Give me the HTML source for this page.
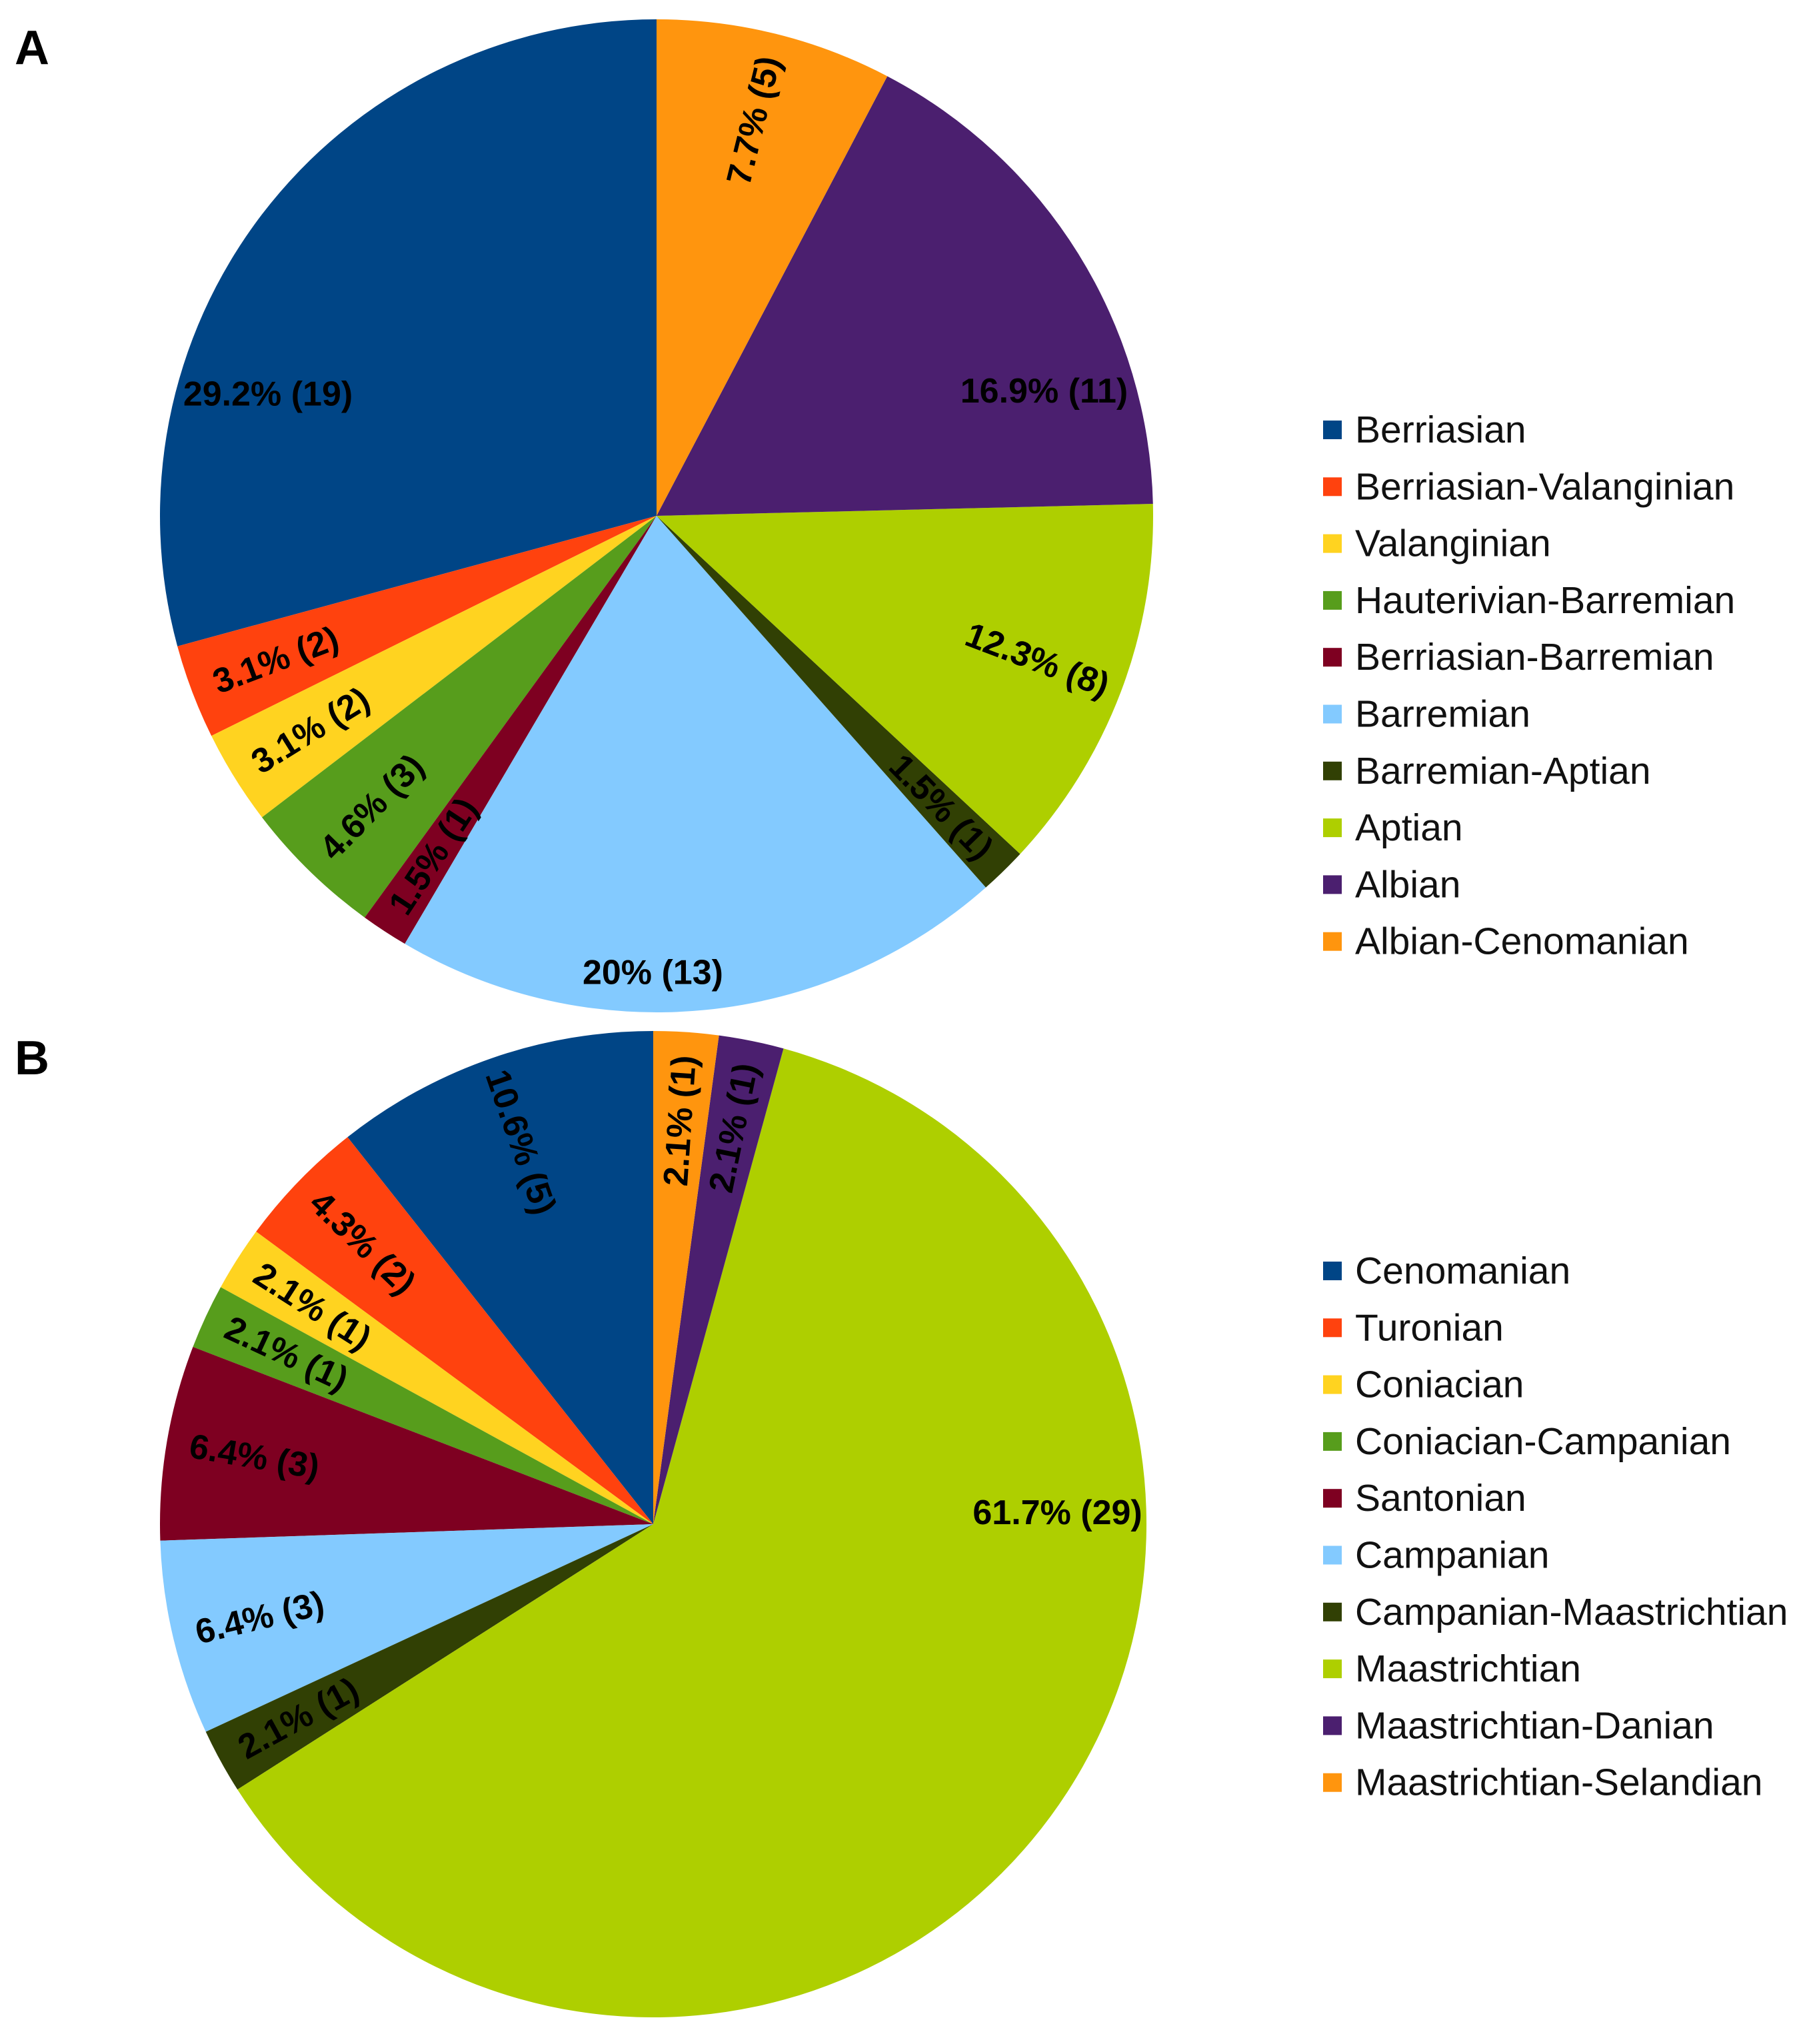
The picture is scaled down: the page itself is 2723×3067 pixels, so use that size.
<!DOCTYPE html>
<html><head><meta charset="utf-8"><style>
html,body{margin:0;padding:0;background:#fff}
svg{display:block}
text{font-family:"Liberation Sans",sans-serif}
</style></head><body>
<svg id="chart" width="2723" height="3067" viewBox="0 0 2723 3067" xmlns="http://www.w3.org/2000/svg">
<text x="22" y="96" font-size="72" font-weight="bold">A</text>
<text x="22" y="1612" font-size="72" font-weight="bold">B</text>
</svg>
<script>
const colors = ["#004586","#ff420e","#ffd320","#579d1c","#7e0021","#83caff","#314004","#aecf00","#4b1f6f","#ff950e"];
const categoriesA = ["Berriasian","Berriasian-Valanginian","Valanginian","Hauterivian-Barremian","Berriasian-Barremian","Barremian","Barremian-Aptian","Aptian","Albian","Albian-Cenomanian"];
const valuesA = [19,2,2,3,1,13,1,8,11,5];
const categoriesB = ["Cenomanian","Turonian","Coniacian","Coniacian-Campanian","Santonian","Campanian","Campanian-Maastrichtian","Maastrichtian","Maastrichtian-Danian","Maastrichtian-Selandian"];
const valuesB = [5,2,1,1,3,3,1,29,1,1];

const NS = "http://www.w3.org/2000/svg";
const svg = document.getElementById("chart");

// label placement tweaks (style only): angle offset in degrees and radius fraction for horizontal labels
const labelTweakA = {0:[-20,0.82],5:[6,0.92],8:[14,0.82]};
const labelTweakB = {7:[-38,0.82]};

function drawPie(key, cats, vals, cx, cy, r, legendX, legendY, tweak) {
  const total = vals.reduce((a,b)=>a+b,0);
  let start = 0;
  const labels = [];
  vals.forEach((v,i)=>{
    const sweep = v/total*360;
    const a0 = -start, a1 = -(start+sweep);
    const p = (a)=>[cx+r*Math.sin(a*Math.PI/180), cy-r*Math.cos(a*Math.PI/180)];
    const [x0,y0]=p(a0),[x1,y1]=p(a1);
    const large = sweep>180?1:0;
    const path = document.createElementNS(NS,"path");
    path.setAttribute("d",`M${cx},${cy} L${x0},${y0} A${r},${r} 0 ${large} 0 ${x1},${y1} Z`);
    path.setAttribute("fill",colors[i]);
    
    
    svg.appendChild(path);
    const mid = ((-(start+sweep/2))%360+360)%360;
    labels.push({v, mid, pct: v/total*100, i});
    start += sweep;
  });
  labels.forEach(l=>{
    let ang = l.mid, frac = 0.82;
    let rot = l.mid-90;
    while(rot>90) rot-=180;
    while(rot<=-90) rot+=180;
    if (l.pct>15) {
      rot = 0;
      if (tweak[l.i]) { ang += tweak[l.i][0]; frac = tweak[l.i][1]; }
    }
    const lr = r*frac;
    const x = cx+lr*Math.sin(ang*Math.PI/180), y = cy-lr*Math.cos(ang*Math.PI/180);
    let pctTxt = (Math.round(l.pct*10)/10).toString();
    const t = document.createElementNS(NS,"text");
    t.setAttribute("x",x); t.setAttribute("y",y);
    t.setAttribute("font-size","52"); t.setAttribute("font-weight","bold");
    t.setAttribute("text-anchor","middle"); t.setAttribute("dominant-baseline","central");
    t.setAttribute("transform",`rotate(${rot} ${x} ${y})`);
    t.textContent = pctTxt + "% (" + l.v + ")";
    
    
    svg.appendChild(t);
  });
  cats.forEach((c,i)=>{
    const y = legendY + i*85.3;
    const sq = document.createElementNS(NS,"rect");
    sq.setAttribute("x",legendX); sq.setAttribute("y",y-14);
    sq.setAttribute("width",28); sq.setAttribute("height",28);
    sq.setAttribute("fill",colors[i]);
    
    
    svg.appendChild(sq);
    const t = document.createElementNS(NS,"text");
    t.setAttribute("x",legendX+48); t.setAttribute("y",y);
    t.setAttribute("font-size","57"); t.setAttribute("dominant-baseline","central");
    t.setAttribute("fill","#111");
    t.textContent = c;
    
    
    svg.appendChild(t);
  });
}
drawPie("a", categoriesA, valuesA, 985, 774, 745, 1985, 645, labelTweakA);
drawPie("b", categoriesB, valuesB, 980, 2287, 740, 1985, 1907, labelTweakB);
</script>
</body></html>
